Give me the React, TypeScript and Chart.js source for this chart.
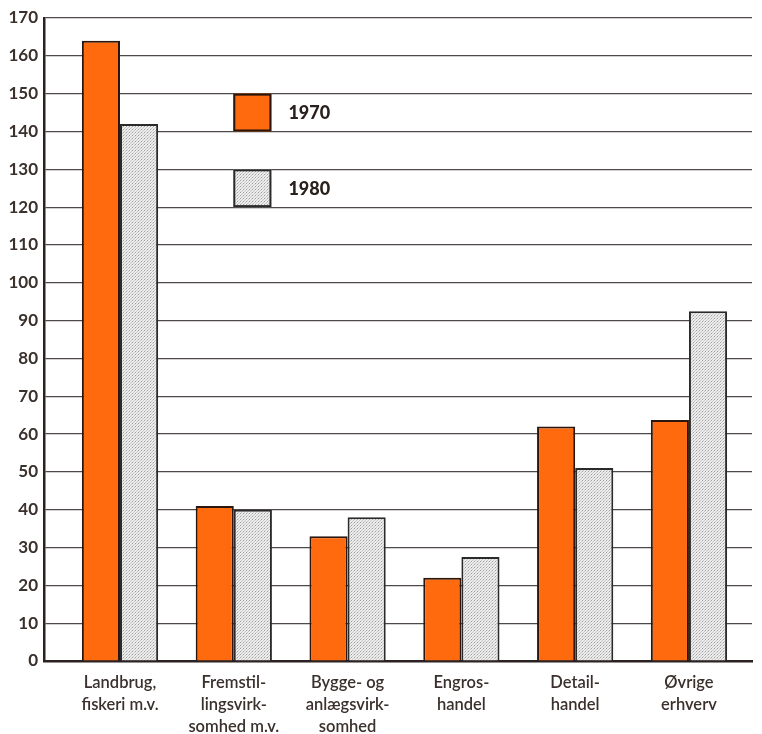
import React, { useEffect, useRef } from "react";
import { Chart, registerables } from "chart.js";

Chart.register(...registerables);

const categories: string[][] = [
  ["Landbrug,", "fiskeri m.v."],
  ["Fremstil-", "lingsvirk-", "somhed m.v."],
  ["Bygge- og", "anlægsvirk-", "somhed"],
  ["Engros-", "handel"],
  ["Detail-", "handel"],
  ["Øvrige", "erhverv"],
];
const seriesLabels = ["1970", "1980"];
const values1970 = [164, 41, 33, 22, 62, 63.7];
const values1980 = [142, 40, 38, 27.5, 51, 92.5];
const yMin = 0;
const yMax = 170;
const yStep = 10;

const TEXT = "#3a302c";

function makeDotPattern(): CanvasPattern | string {
  const c = document.createElement("canvas");
  c.width = 3;
  c.height = 3;
  const g = c.getContext("2d");
  if (!g) return "#d4d4d4";
  g.fillStyle = "#ececec";
  g.fillRect(0, 0, 3, 3);
  g.fillStyle = "#a0a0a0";
  g.fillRect(0, 0, 1, 1);
  g.fillStyle = "#c8c8c8";
  g.fillRect(2, 1, 1, 1);
  g.fillRect(1, 2, 1, 1);
  const p = g.createPattern(c, "repeat");
  return p || "#d4d4d4";
}

const legendPlugin = {
  id: "insideLegend",
  afterDatasetsDraw(chart: any) {
    const ctx = chart.ctx;
    const xs = chart.scales.x;
    const ys = chart.scales.y;
    const meta = chart.getDatasetMeta(0);
    const bw = meta.data[0] ? meta.data[0].width : 38;
    const left = xs.getPixelForValue(1) - 0.5;
    const ranges = [
      [150, 140],
      [130, 120],
    ];
    chart.data.datasets.forEach((ds: any, i: number) => {
      const top = ys.getPixelForValue(ranges[i][0]);
      const bot = ys.getPixelForValue(ranges[i][1]);
      ctx.save();
      ctx.fillStyle = ds.backgroundColor;
      ctx.fillRect(left, top, bw, bot - top);
      ctx.strokeStyle = ds.borderColor;
      ctx.lineWidth = 2;
      ctx.strokeRect(left + 1, top + 1, bw - 2, bot - top - 2);
      ctx.fillStyle = "#2a201c";
      ctx.font = "900 18px Lato";
      ctx.textBaseline = "middle";
      ctx.textAlign = "left";
      ctx.fillText(ds.label, left + bw + 17, (top + bot) / 2 + 1);
      ctx.restore();
    });
  },
};

export default function App() {
  const ref = useRef<HTMLCanvasElement | null>(null);

  useEffect(() => {
    if (!ref.current) return;
    const pattern = makeDotPattern();
    const chart = new Chart(ref.current, {
      type: "bar",
      data: {
        datasets: [
          {
            label: seriesLabels[0],
            data: values1970.map((v, i) => ({ x: i, y: v })),
            backgroundColor: "#ff6a0e",
            borderColor: "#2a160c",
            borderWidth: 2,
            categoryPercentage: 0.67,
            barPercentage: 1,
          },
          {
            label: seriesLabels[1],
            data: values1980.map((v, i) => ({ x: i, y: v })),
            backgroundColor: pattern as any,
            borderColor: "#2a2a2a",
            borderWidth: 2,
            categoryPercentage: 0.67,
            barPercentage: 1,
          },
        ],
      },
      options: {
        responsive: false,
        animation: false,
        layout: { padding: { left: 0, right: 10, top: 18, bottom: 0 } },
        plugins: {
          legend: { display: false },
          tooltip: { enabled: false },
        },
        scales: {
          x: {
            type: "linear",
            offset: false,
            min: -0.668,
            max: 5.554,
            grid: { display: false, drawTicks: false, offset: false },
            border: { display: true, color: "#2a2222", width: 2.5 },
            afterBuildTicks: (scale: any) => {
              scale.ticks = categories.map((_, i) => ({ value: i }));
            },
            afterFit: (scale: any) => {
              scale.height = 73;
            },
            ticks: {
              autoSkip: false,
              maxRotation: 0,
              minRotation: 0,
              padding: 10,
              color: TEXT,
              font: { family: "Lato", size: 16.5, weight: "600", lineHeight: 1.36 },
              callback: (v: any) => categories[Math.round(Number(v))] || "",
            },
          },
          y: {
            type: "linear",
            min: yMin,
            max: yMax,
            grid: { color: "#4e4848", lineWidth: 1.2, drawTicks: false },
            border: { display: true, color: "#2a2222", width: 2.5 },
            afterFit: (scale: any) => {
              scale.width = 44;
            },
            ticks: {
              stepSize: yStep,
              padding: 6,
              color: TEXT,
              font: { family: "Lato", size: 17, weight: "bold" },
            },
          },
        },
      },
      plugins: [legendPlugin],
    } as any);
    return () => chart.destroy();
  }, []);

  return (
    <div style={{ position: "fixed", left: 0, top: 0, width: 762, height: 734, background: "#fff" }}>
      <canvas ref={ref} width={762} height={734} style={{ width: 762, height: 734, display: "block" }} />
    </div>
  );
}
